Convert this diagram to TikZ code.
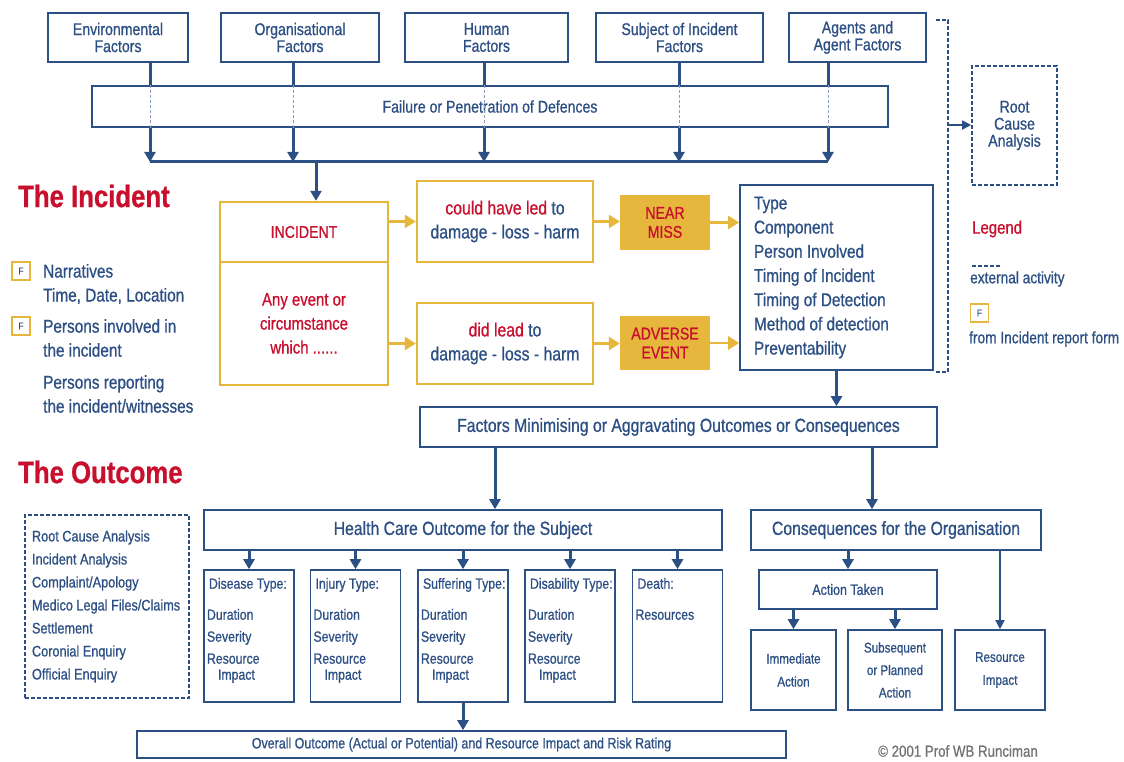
\documentclass[tikz,border=0pt]{standalone}
\usepackage{fontspec}
\setmainfont{Liberation Sans}[FakeStretch=0.83,FakeBold=0.8]
\usetikzlibrary{shapes,arrows.meta}
\definecolor{ablue}{HTML}{2C4F84}
\definecolor{ared}{HTML}{C8102E}
\definecolor{agold}{HTML}{E6B63D}
\tikzstyle{box} = [rectangle, draw=ablue, line width=1.6pt, text=ablue,
    align=center, inner sep=0pt, font=\fontsize{17}{17}\selectfont]
\tikzstyle{extbox} = [box, dash pattern=on 4pt off 2pt]
\tikzstyle{subbox} = [box, inner xsep=3pt, inner ysep=4pt, font=\fontsize{14.8}{22}\selectfont]
\tikzstyle{goldbox} = [rectangle, draw=agold, line width=2.4pt, text=ablue,
    align=center, inner sep=0pt, font=\fontsize{19}{24}\selectfont]
\tikzstyle{goldfill} = [rectangle, fill=agold, text=ared, align=center,
    inner sep=0pt, font=\fontsize{17}{19}\selectfont]
\tikzstyle{fbox} = [rectangle, draw=agold, line width=1.3pt, minimum size=18pt,
    inner sep=0pt, text=ablue, font=\fontsize{10}{10}\selectfont]
\tikzstyle{txt} = [anchor=west, align=left, text=ablue, inner sep=0pt,
    font=\fontsize{18.5}{24}\selectfont]
\tikzstyle{title} = [anchor=west, text=ared, inner sep=0pt,
    font=\fontsize{31}{31}\selectfont\bfseries]
\tikzstyle{line} = [draw=ablue, line width=3pt, -{Triangle[length=10pt,width=11pt]}]
\tikzstyle{thinline} = [draw=ablue, line width=1.6pt, -{Triangle[length=9pt,width=9pt]}]
\tikzstyle{goldline} = [draw=agold, line width=2.5pt, -{Triangle[length=11pt,width=13pt]}]
\tikzstyle{bus} = [draw=ablue, line width=3pt]
\tikzstyle{inner} = [draw=ablue!55, line width=0.8pt, dash pattern=on 3pt off 2pt]
\tikzstyle{ext} = [draw=ablue, line width=1.3pt, dash pattern=on 4pt off 2pt]
\newcommand{\subtext}[2]{\parbox[c][124pt][t]{84pt}{\raggedright\vspace*{4pt}%
    \hspace*{2pt}\mbox{#1}\\[9pt]#2}}

\begin{document}
\begin{tikzpicture}[x=1pt,y=-1pt]
      \useasboundingbox (0,0) rectangle (1124,762);

      \node [box, minimum width=140pt, minimum height=49pt] (env) at (118,37.5)
         {Environmental\\Factors};
      \node [box, minimum width=158pt, minimum height=49pt] (org) at (300,37.5)
         {Organisational\\Factors};
      \node [box, minimum width=163pt, minimum height=49pt] (hum) at (486.5,37.5)
         {Human\\Factors};
      \node [box, minimum width=167pt, minimum height=49pt] (subj) at (679.5,37.5)
         {Subject of Incident\\Factors};
      \node [box, minimum width=137pt, minimum height=49pt] (agt) at (857.5,37.5)
         {Agents and\\Agent Factors};
      \node [box, minimum width=796pt, minimum height=41pt] (fail) at (490,106.5)
         {Failure or Penetration of Defences};
      \node [extbox, minimum width=85pt, minimum height=119pt] (rca) at (1014.5,125.5)
         {Root\\Cause\\Analysis};

      \node [title] (tinc) at (18,196) {The Incident};
      \node [goldbox, minimum width=168pt, minimum height=60pt, text=ared,
         font=\fontsize{17}{17}\selectfont] (inc) at (304,232) {INCIDENT};
      \node [goldbox, minimum width=168pt, minimum height=123pt, text=ared,
         font=\fontsize{18}{24}\selectfont] (anyev) at (304,323.5)
         {Any event or\\circumstance\\which ......};
      \node [goldbox, minimum width=176pt, minimum height=81pt] (could) at (505,221.5)
         {\textcolor{ared}{could have led} to\\damage - loss - harm};
      \node [goldbox, minimum width=176pt, minimum height=81pt] (did) at (505,343.5)
         {\textcolor{ared}{did lead} to\\damage - loss - harm};
      \node [goldfill, minimum width=90pt, minimum height=55pt] (near) at (665,222.5)
         {NEAR\\MISS};
      \node [goldfill, minimum width=90pt, minimum height=54pt] (adv) at (665,343)
         {ADVERSE\\EVENT};
      \node [box, minimum width=193pt, minimum height=185pt,
         font=\fontsize{18.5}{24.2}\selectfont] (types) at (836.5,277.5)
         {\parbox{165pt}{\raggedright Type\\Component\\Person Involved\\Timing of Incident\\
          Timing of Detection\\Method of detection\\Preventability}};

      \node [fbox] (f1) at (21,271) {F};
      \node [fbox] (f2) at (21,326) {F};
      \node [txt] (narr) at (43,284) {Narratives\\Time, Date, Location};
      \node [txt] (pinv) at (43,338) {Persons involved in\\the incident};
      \node [txt] (prep) at (43,394) {Persons reporting\\the incident/witnesses};

      \node [title, font=\fontsize{18}{18}\selectfont] (leg) at (972,229) {Legend};
      \node [txt, font=\fontsize{16.5}{16.5}\selectfont] (lext) at (970,279) {external activity};
      \node [fbox] (f3) at (979.5,313) {F};
      \node [txt, font=\fontsize{16.5}{16.5}\selectfont] (lform) at (969,339)
         {from Incident report form};

      \node [box, minimum width=517pt, minimum height=40pt,
         font=\fontsize{19}{19}\selectfont] (fact) at (678.5,427)
         {Factors Minimising or Aggravating Outcomes or Consequences};

      \node [title] (tout) at (18,472) {The Outcome};
      \node [box, minimum width=518pt, minimum height=40pt,
         font=\fontsize{19}{19}\selectfont] (hc) at (463,530)
         {Health Care Outcome for the Subject};
      \node [box, minimum width=290pt, minimum height=40pt,
         font=\fontsize{19}{19}\selectfont] (cons) at (896,530)
         {Consequences for the Organisation};
      \node [subbox] (dis) at (249,636)
         {\subtext{Disease Type:}{Duration\\Severity\\Resource\\[-6pt]\hspace*{11pt}Impact}};
      \node [subbox] (inj) at (355.5,636)
         {\subtext{Injury Type:}{Duration\\Severity\\Resource\\[-6pt]\hspace*{11pt}Impact}};
      \node [subbox] (suf) at (463,636)
         {\subtext{Suffering Type:}{Duration\\Severity\\Resource\\[-6pt]\hspace*{11pt}Impact}};
      \node [subbox] (disab) at (570,636)
         {\subtext{Disability Type:}{Duration\\Severity\\Resource\\[-6pt]\hspace*{11pt}Impact}};
      \node [subbox] (death) at (677.5,636)
         {\subtext{Death:}{Resources}};
      \node [box, minimum width=649pt, minimum height=27pt,
         font=\fontsize{15}{15}\selectfont] (overall) at (461.5,744.5)
         {Overall Outcome (Actual or Potential) and Resource Impact and Risk Rating};
      \node [extbox, minimum width=164pt, minimum height=183pt,
         font=\fontsize{15.3}{23}\selectfont] (list) at (107,606.5)
         {\parbox{150pt}{\raggedright Root Cause Analysis\\Incident Analysis\\Complaint/Apology\\
          Medico Legal Files/Claims\\Settlement\\Coronial Enquiry\\Official Enquiry}};

      \node [box, minimum width=178pt, minimum height=39pt,
         font=\fontsize{15}{15}\selectfont] (act) at (848,589.5) {Action Taken};
      \node [box, minimum width=85pt, minimum height=80pt,
         font=\fontsize{14}{23}\selectfont] (imm) at (793.5,670) {Immediate\\Action};
      \node [box, minimum width=94pt, minimum height=80pt,
         font=\fontsize{14}{22.5}\selectfont] (subs) at (895,670)
         {Subsequent\\or Planned\\Action};
      \node [box, minimum width=90pt, minimum height=80pt,
         font=\fontsize{14}{23}\selectfont] (resimp) at (1000,670) {Resource\\Impact};

      \node [anchor=west, inner sep=0pt, text=black!55,
         font=\fontsize{16}{16}\selectfont] (copy) at (878,751) {\textcopyright{} 2001 Prof WB Runciman};

      \foreach \n/\x in {env/150,org/293,hum/484,subj/679,agt/828} {
         \coordinate (c\n) at (\x,162);
         \path [bus] (\n.south -| c\n) -- (fail.north -| c\n);
         \path [inner] (fail.north -| c\n) -- (fail.south -| c\n);
         \path [line] (fail.south -| c\n) -- (c\n);
      }
      \path [bus] (cenv) -- (cagt);
      \coordinate (cin) at (316,162);
      \path [line] (cin) -- (cin |- inc.north);

      \path [ext] (936,20) -- (948,20) -- (948,372) -- (936,372);
      \coordinate (brk) at (948,125);
      \path [thinline] (brk) -- (brk -| rca.west);
      \path [ext] (972,266) -- (1000,266);

      \path [goldline] (inc.east |- could.west) -- (could.west);
      \path [goldline] (anyev.east |- did.west) -- (did.west);
      \path [goldline] (could.east) -- (could.east -| near.west);
      \path [goldline] (did.east) -- (did.east -| adv.west);
      \path [goldline] (near.east) -- (near.east -| types.west);
      \path [goldline] (adv.east) -- (adv.east -| types.west);
      \path [line] (types.south) -- (types.south |- fact.north);

      \path [line] ([xshift=32pt]hc.north |- fact.south) -- ([xshift=32pt]hc.north);
      \path [line] ([xshift=-24pt]cons.north |- fact.south) -- ([xshift=-24pt]cons.north);
      \foreach \n in {dis,inj,suf,disab,death}
         \path [line] (hc.south -| \n.north) -- (\n.north);
      \path [line] (suf.south) -- (suf.south |- overall.north);
      \path [line] (cons.south -| act.north) -- (act.north);
      \path [line] (act.south -| imm.north) -- (imm.north);
      \path [line] (act.south -| subs.north) -- (subs.north);
      \path [thinline] (cons.south -| resimp.north) -- (resimp.north);
   \end{tikzpicture}
\end{document}
